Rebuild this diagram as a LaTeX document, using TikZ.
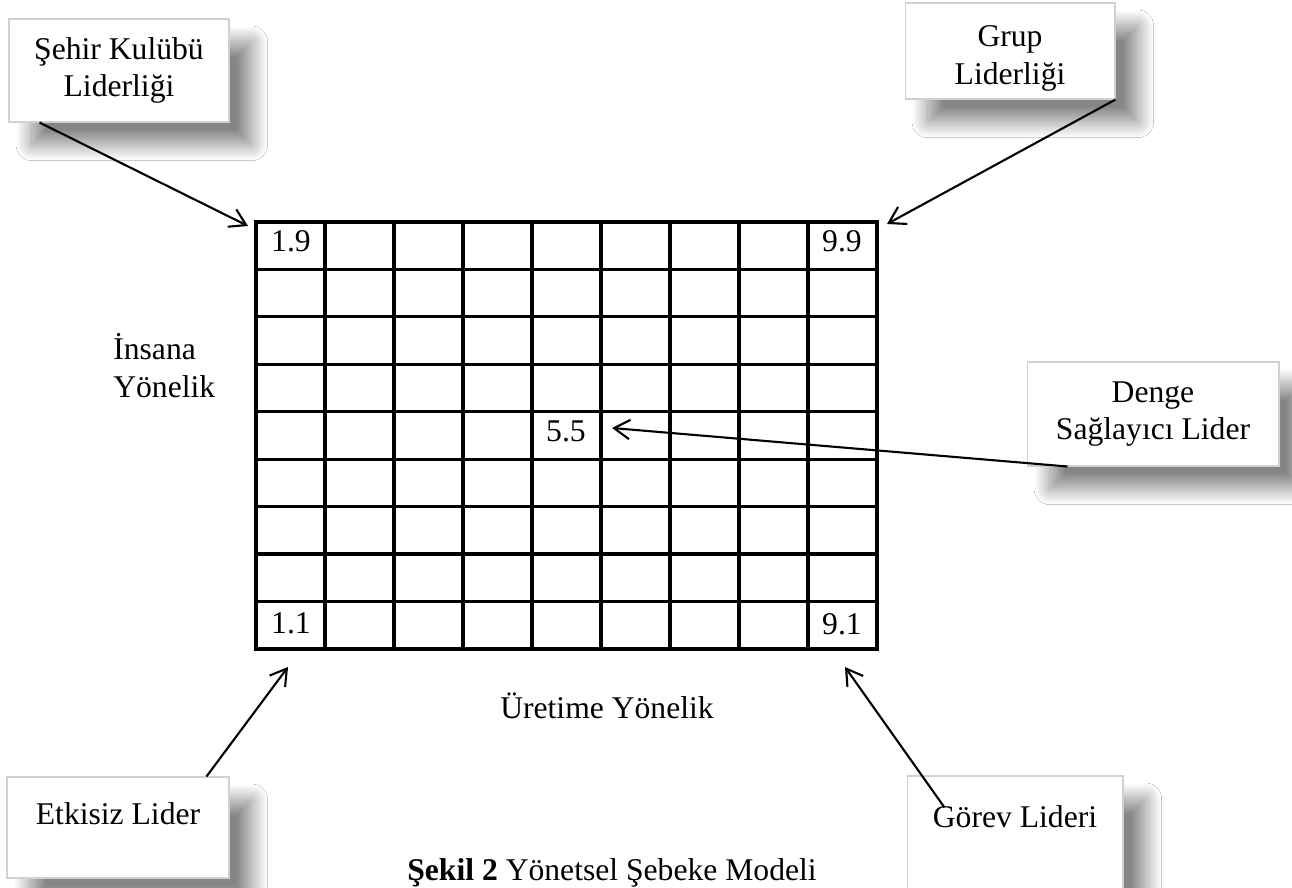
\documentclass[tikz,border=0pt]{standalone}
\usepackage{fontspec}
\setmainfont{Liberation Serif}
\usetikzlibrary{arrows.meta,shadows.blur}

\begin{document}
\begin{tikzpicture}[x=0.02cm, y=-0.02cm,
  >={Straight Barb[length=9pt,width=11pt]},
  font=\fontsize{18pt}{21.5pt}\selectfont,
  lbox/.style={draw=black!18, line width=0.6pt, fill=white, align=center, inner sep=0pt,
    blur shadow={shadow xshift=13pt, shadow yshift=-13pt, shadow blur radius=9pt,
      shadow blur steps=32, shadow opacity=48}},
  cellnum/.style={anchor=base, inner sep=0pt},
  gridline/.style={line width=1.8pt},
  pointer/.style={->, line width=1.2pt}]
\clip (0,0) rectangle (1292,888);
\fill[white] (0,0) rectangle (1292,888);

% the 9x9 grid
\draw[gridline] (256,222) rectangle (877,649);
\foreach \i in {1,...,8} {
  \draw[gridline] (256+69*\i,222) -- (256+69*\i,649);
  \draw[gridline] (256,222+47.44*\i) -- (877,222+47.44*\i);
}
\node[cellnum] (c19) at (291,252) {1.9};
\node[cellnum] (c99) at (842,252) {9.9};
\node[cellnum] (c55) at (566,442) {5.5};
\node[cellnum] (c11) at (291,633) {1.1};
\node[cellnum] (c91) at (842,634) {9.1};

% axis labels
\node[align=left, anchor=north west, inner sep=0pt] (insana) at (113,333) {İnsana\\Yönelik};
\node[anchor=base] (uretim) at (607,718) {Üretime Yönelik};

% leader styles
\node[lbox, minimum width=4.4cm, minimum height=2.06cm] (sehir) at (119,70.5) {Şehir Kulübü\\Liderliği};
\node[lbox, minimum width=4.2cm, minimum height=1.92cm, text height=42pt] (grup) at (1010,51) {Grup\\Liderliği};
\node[lbox, minimum width=5.04cm, minimum height=2.08cm] (denge) at (1153,414) {Denge\\Sağlayıcı Lider};
\node[lbox, minimum width=4.44cm, minimum height=2.02cm, text depth=16pt] (etkisiz) at (118,827.5) {Etkisiz Lider};
\node[lbox, minimum width=4.32cm, minimum height=2.48cm, text depth=25pt] (gorev) at (1015,838) {Görev Lideri};

\coordinate (t19) at (248,226);
\coordinate (t99) at (887,224);
\coordinate (t55) at (612,428);
\coordinate (t11) at (288,667);
\coordinate (t91) at (845,667);

\draw[pointer] ([shift={(31,0)}]sehir.south west) -- (t19);
\draw[pointer] (grup.south east) -- (t99);
\draw[pointer] ([shift={(41,0)}]denge.south west) -- (t55);
\draw[pointer] ([shift={(200,0)}]etkisiz.north west) -- (t11);
\draw[pointer] ([shift={(38,32)}]gorev.north west) -- (t91);

% caption
\node[anchor=base west, inner sep=0pt] (caption) at (407,880) {\textbf{Şekil 2} Yönetsel Şebeke Modeli};
\end{tikzpicture}
\end{document}
